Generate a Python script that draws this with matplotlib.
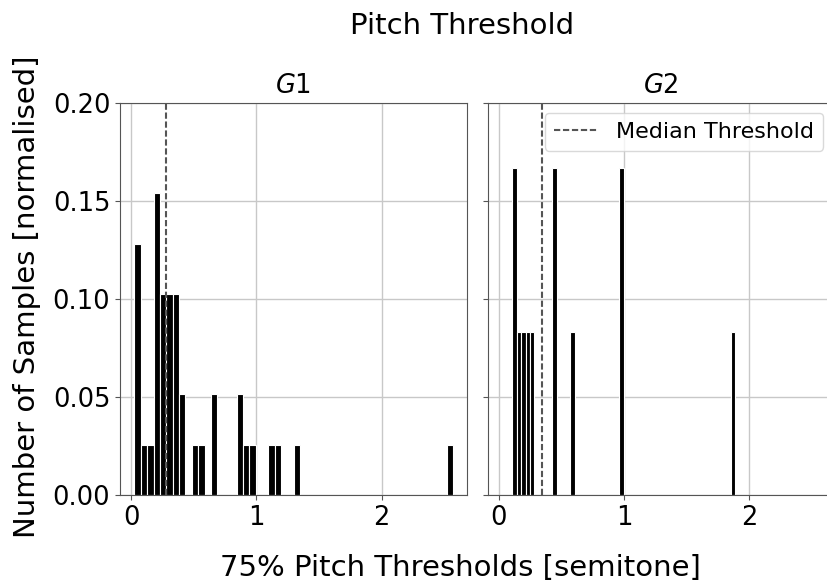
import numpy as np
import matplotlib
matplotlib.use("Agg")
import matplotlib.pyplot as plt

# ---- data ----
groups = ["$G1$", "$G2$"]
# histogram: 50 equal bins spanning each group's data range
g1_range = (0.027, 2.572)
g1_bin_index = [0, 1, 2, 3, 4, 5, 6, 7, 9, 10, 12, 16, 17, 18, 21, 22, 25, 49]
g1_counts = [5, 1, 1, 6, 4, 4, 4, 2, 1, 1, 2, 2, 1, 1, 1, 1, 1, 1]
g1_total = 39
g1_median = 0.281

g2_range = (0.105, 1.89)
g2_bin_index = [0, 1, 2, 3, 4, 9, 13, 24, 49]
g2_counts = [2, 1, 1, 1, 1, 2, 1, 2, 1]
g2_total = 12
g2_median = 0.34

n_bins = 50
x_ticks = [0, 1, 2]
y_ticks = [0.00, 0.05, 0.10, 0.15, 0.20]

fig = plt.figure(figsize=(8.27, 5.83), dpi=100)
W, H = 827, 583

def px_axes(x0, y0, x1, y1):
    return fig.add_axes([x0 / W, 1 - y1 / H, (x1 - x0) / W, (y1 - y0) / H])

ax1 = px_axes(120, 103, 467, 495)
ax2 = px_axes(488, 103, 834, 495)

datasets = [
    (ax1, g1_range, g1_bin_index, g1_counts, g1_total, g1_median),
    (ax2, g2_range, g2_bin_index, g2_counts, g2_total, g2_median),
]

for i, (ax, rng, idx, cnt, tot, med) in enumerate(datasets):
    width = (rng[1] - rng[0]) / n_bins
    lefts = rng[0] + np.array(idx) * width
    heights = np.array(cnt) / tot
    ax.set_axisbelow(True)
    ax.grid(True, color="#c8c8c8", linewidth=1.0)
    ax.bar(lefts, heights, width=width, align="edge", color="black",
           edgecolor="white", linewidth=0.8, zorder=2)
    ax.axvline(med, color="#555555", linestyle=(0, (3, 1.3)), linewidth=1.5,
               zorder=3, label="Median Threshold")
    ax.set_xlim(-0.088, 2.68)
    ax.set_ylim(0, 0.2)
    ax.set_xticks(x_ticks)
    ax.set_yticks(y_ticks)
    ax.tick_params(labelsize=18.5, colors="black")
    ax.tick_params(axis="both", color="#555555")
    for s in ax.spines.values():
        s.set_color("#555555")
    ax.set_title(groups[i], fontsize=18.5, pad=7)
    if i == 1:
        ax.tick_params(labelleft=False)

ax1.yaxis.set_major_formatter(matplotlib.ticker.FormatStrFormatter("%.2f"))

ax2.legend(loc="upper right", bbox_to_anchor=(823 / W, 1 - 113 / H),
           bbox_transform=fig.transFigure, borderaxespad=0, fontsize=16,
           handlelength=2.0, framealpha=0.8, edgecolor="#d0d0d0")

fig.text(462 / W, 1 - 34 / H, "Pitch Threshold", fontsize=21, ha="center", va="baseline")
fig.text(460 / W, 1 - 576 / H, "75% Pitch Thresholds [semitone]", fontsize=21,
         ha="center", va="baseline")
fig.text(27 / W, 1 - 297 / H, "Number of Samples [normalised]", fontsize=21,
         rotation=90, ha="center", va="center")

fig.savefig("out.png", dpi=100)
